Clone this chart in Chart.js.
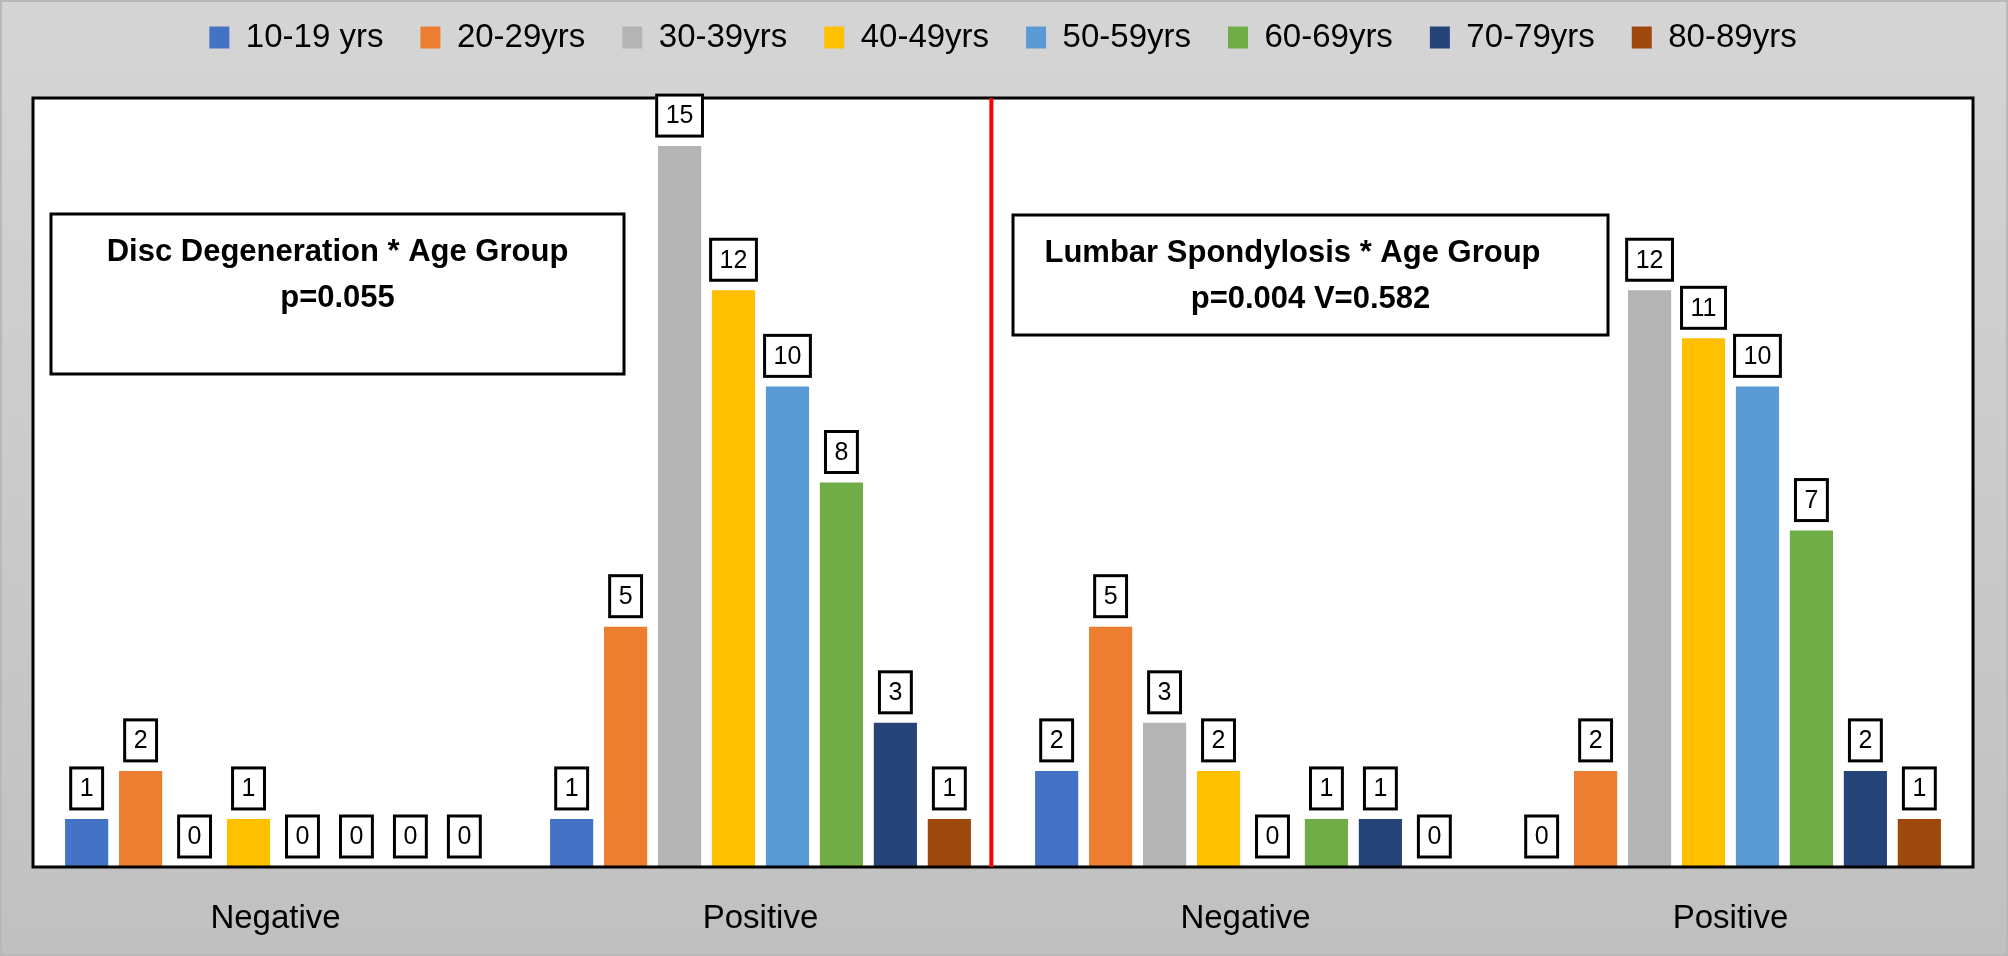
<!DOCTYPE html>
<html>
<head>
<meta charset="utf-8">
<script src="https://cdn.jsdelivr.net/npm/chart.js@4.4.1/dist/chart.umd.min.js"></script>
<style>
  html, body { margin: 0; padding: 0; background: #c8c8c8; }
  #wrap { width: 2008px; height: 956px; position: relative; }
  canvas { display: block; }
</style>
</head>
<body>
<div id="wrap"><canvas id="c" width="2008" height="956"></canvas></div>
<script>
// ---- Data ----
const categories = ["Negative", "Positive", "Negative", "Positive"];
const seriesLabels = ["10-19 yrs", "20-29yrs", "30-39yrs", "40-49yrs", "50-59yrs", "60-69yrs", "70-79yrs", "80-89yrs"];
const age10_19 = [1, 1, 2, 0];
const age20_29 = [2, 5, 5, 2];
const age30_39 = [0, 15, 3, 12];
const age40_49 = [1, 12, 2, 11];
const age50_59 = [0, 10, 0, 10];
const age60_69 = [0, 8, 1, 7];
const age70_79 = [0, 3, 1, 2];
const age80_89 = [0, 1, 0, 1];
const seriesColors = ["#4472C4", "#ED7D31", "#B4B4B4", "#FFC000", "#5B9BD5", "#70AD47", "#264478", "#9E480E"];
const panelNotes = [
  ["Disc Degeneration * Age Group", "p=0.055"],
  ["Lumbar Spondylosis * Age Group", "p=0.004 V=0.582"]
];
const yMax = 16;

const allSeries = [age10_19, age20_29, age30_39, age40_49, age50_59, age60_69, age70_79, age80_89];
const datasets = allSeries.map((d, i) => ({
  label: seriesLabels[i],
  data: d,
  backgroundColor: seriesColors[i],
  borderWidth: 0,
  categoryPercentage: 0.89,
  barPercentage: 0.8
}));

const FONT = "'Liberation Sans', Arial, sans-serif";

const bgPlugin = {
  id: 'bg',
  beforeDraw(chart) {
    const {ctx, width, height, chartArea: a} = chart;
    ctx.save();
    const g = ctx.createLinearGradient(0, 0, 0, height);
    g.addColorStop(0, '#d5d5d5');
    g.addColorStop(1, '#c0c0c0');
    ctx.fillStyle = g;
    ctx.fillRect(0, 0, width, height);
    ctx.strokeStyle = '#b8b8b8';
    ctx.lineWidth = 2;
    ctx.strokeRect(1, 1, width - 2, height - 2);
    ctx.fillStyle = '#ffffff';
    ctx.fillRect(a.left, a.top, a.right - a.left, a.bottom - a.top);
    ctx.restore();
  },
  beforeDatasetsDraw(chart) {
    const {ctx, chartArea: a} = chart;
    ctx.save();
    const boxes = [
      {x0: a.left + 18, y0: a.top + 116, x1: a.left + 591, y1: a.top + 276, dx: 0},
      {x0: a.left + 980, y0: a.top + 117, x1: a.left + 1575, y1: a.top + 237, dx: -18}
    ];
    boxes.forEach((b, i) => {
      ctx.lineWidth = 3;
      ctx.strokeStyle = '#000';
      ctx.strokeRect(b.x0, b.y0, b.x1 - b.x0, b.y1 - b.y0);
      ctx.fillStyle = '#000';
      ctx.font = "bold 31px " + FONT;
      ctx.textAlign = 'center';
      ctx.textBaseline = 'middle';
      const cx = (b.x0 + b.x1) / 2;
      ctx.fillText(panelNotes[i][0], cx + b.dx, b.y0 + 38);
      ctx.fillText(panelNotes[i][1], cx, b.y0 + 84);
    });
    ctx.restore();
  },
  afterDatasetsDraw(chart) {
    const {ctx, chartArea: a, scales} = chart;
    ctx.save();
    ctx.strokeStyle = '#000';
    ctx.lineWidth = 3;
    ctx.strokeRect(a.left, a.top, a.right - a.left, a.bottom - a.top);
    const xr = scales.x.getPixelForValue(1.476);
    ctx.strokeStyle = '#ff0000';
    ctx.lineWidth = 4;
    ctx.beginPath();
    ctx.moveTo(xr, a.top);
    ctx.lineTo(xr, a.bottom);
    ctx.stroke();
    ctx.font = "25px " + FONT;
    ctx.textAlign = 'center';
    ctx.textBaseline = 'middle';
    chart.data.datasets.forEach((ds, di) => {
      const meta = chart.getDatasetMeta(di);
      meta.data.forEach((el, j) => {
        const txt = String(ds.data[j]);
        const tw = ctx.measureText(txt).width;
        const w = tw + 21, h = 44;
        const bottom = el.y - 8.5;
        const top = bottom - h;
        const left = el.x - w / 2;
        ctx.fillStyle = '#fff';
        ctx.fillRect(left, top, w, h);
        ctx.lineWidth = 3;
        ctx.strokeStyle = '#000';
        ctx.strokeRect(left + 1.5, top + 1.5, w - 3, h - 3);
        ctx.fillStyle = '#000';
        ctx.fillText(txt, el.x, top + h / 2 + 1);
      });
    });
    ctx.restore();
  }
};

new Chart(document.getElementById('c'), {
  type: 'bar',
  data: { labels: categories, datasets },
  options: {
    responsive: false,
    animation: false,
    devicePixelRatio: 1,
    layout: { padding: { top: -16, left: 33, right: 35, bottom: 0 } },
    plugins: {
      legend: {
        display: true,
        position: 'top',
        labels: {
          color: '#000',
          font: { family: FONT, size: 33 },
          boxWidth: 20,
          boxHeight: 22,
          padding: 37
        }
      },
      tooltip: { enabled: false }
    },
    scales: {
      x: {
        position: 'bottom',
        grid: { display: false, drawTicks: false },
        border: { display: false },
        ticks: { color: '#000', font: { family: FONT, size: 33 }, padding: 32 },
        afterFit(s) { s.height = 89; }
      },
      xTop: {
        type: 'category',
        labels: categories,
        position: 'top',
        grid: { display: false, drawTicks: false },
        border: { display: false },
        ticks: { display: false },
        afterFit(s) { s.height = 34; }
      },
      y: {
        display: false,
        min: 0,
        max: yMax
      }
    }
  },
  plugins: [bgPlugin]
});
</script>
</body>
</html>
